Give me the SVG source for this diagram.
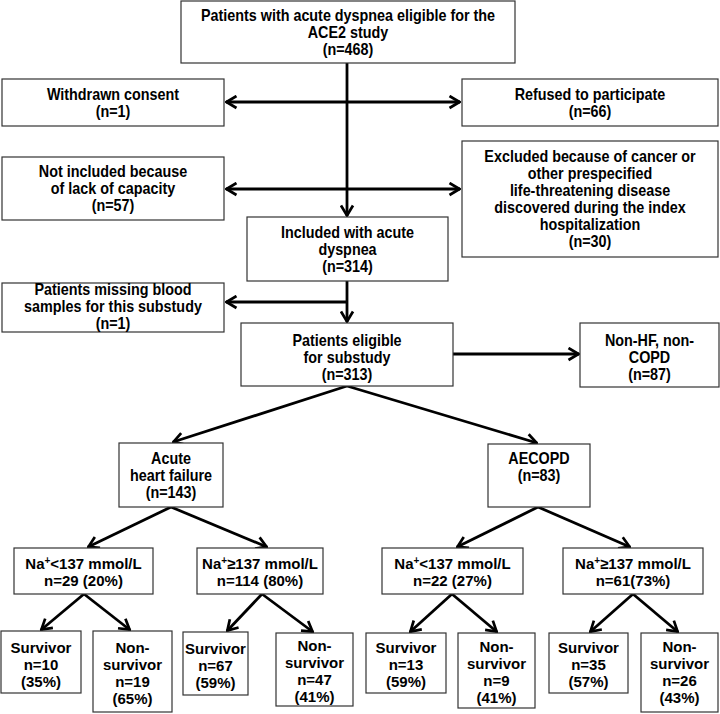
<svg xmlns="http://www.w3.org/2000/svg" width="720" height="714" viewBox="0 0 720 714">
<defs>
<style>
.box{fill:#fff;stroke:#333;stroke-width:1.2}
.tn{font-family:"Liberation Sans",Arial,sans-serif;font-weight:bold;font-size:16.5px;fill:#000;text-anchor:middle}
.tb{font-family:"Liberation Sans",Arial,sans-serif;font-weight:bold;font-size:15px;fill:#000;text-anchor:middle}
.sup{font-size:10px}
.c{stroke:#000;stroke-width:2.8;fill:none;marker-end:url(#ah)}
.d{stroke:#000;stroke-width:2.8;fill:none;marker-end:url(#ah);marker-start:url(#ah)}
</style>
<marker id="ah" viewBox="0 0 13 15" refX="12" refY="7.5" markerWidth="13" markerHeight="15" markerUnits="userSpaceOnUse" orient="auto-start-reverse">
<path d="M1.5,1.5 L11.5,7.5 L1.5,13.5" fill="none" stroke="#000" stroke-width="2.7"/>
</marker>
</defs>
<rect width="720" height="714" fill="#fff"/>

<g id="connectors">
<line class="c" x1="347" y1="63" x2="347" y2="216"/>
<line class="d" x1="226" y1="102" x2="460" y2="102"/>
<line class="d" x1="226" y1="189" x2="460" y2="189"/>
<line class="c" x1="347" y1="281" x2="347" y2="322"/>
<line class="c" x1="347" y1="302" x2="226" y2="302"/>
<line class="c" x1="453" y1="354" x2="579" y2="354"/>
<line class="c" x1="347" y1="386" x2="173" y2="442"/>
<line class="c" x1="347" y1="386" x2="537" y2="443"/>
<line class="c" x1="171" y1="507" x2="88" y2="547"/>
<line class="c" x1="171" y1="507" x2="267" y2="547"/>
<line class="c" x1="538" y1="507" x2="457" y2="547"/>
<line class="c" x1="538" y1="507" x2="630" y2="547"/>
<line class="c" x1="84" y1="594" x2="41" y2="630"/>
<line class="c" x1="84" y1="594" x2="130" y2="630"/>
<line class="c" x1="262" y1="594" x2="227" y2="631"/>
<line class="c" x1="262" y1="594" x2="313" y2="632"/>
<line class="c" x1="452" y1="594" x2="410" y2="632"/>
<line class="c" x1="452" y1="594" x2="497" y2="632"/>
<line class="c" x1="633" y1="594" x2="590" y2="632"/>
<line class="c" x1="633" y1="594" x2="678" y2="632"/>
</g>

<g id="n-top">
<rect class="box" x="181" y="1" width="334" height="62"/>
<text class="tn" transform="translate(348,20.5) scale(0.87,1)">Patients with acute dyspnea eligible for the</text>
<text class="tn" transform="translate(348,37.5) scale(0.87,1)">ACE2 study</text>
<text class="tn" transform="translate(348,54.5) scale(0.87,1)">(n=468)</text>
</g>
<g id="n-withdrawn">
<rect class="box" x="2" y="79" width="222" height="47"/>
<text class="tn" transform="translate(113,99.5) scale(0.87,1)">Withdrawn consent</text>
<text class="tn" transform="translate(113,116.5) scale(0.87,1)">(n=1)</text>
</g>
<g id="n-refused">
<rect class="box" x="462" y="79" width="256" height="47"/>
<text class="tn" transform="translate(590,99.5) scale(0.87,1)">Refused to participate</text>
<text class="tn" transform="translate(590,116.5) scale(0.87,1)">(n=66)</text>
</g>
<g id="n-notincluded">
<rect class="box" x="2" y="157" width="222" height="63"/>
<text class="tn" transform="translate(113,177) scale(0.87,1)">Not included because</text>
<text class="tn" transform="translate(113,194) scale(0.87,1)">of lack of capacity</text>
<text class="tn" transform="translate(113,211) scale(0.87,1)">(n=57)</text>
</g>
<g id="n-excluded">
<rect class="box" x="462" y="141" width="256" height="116"/>
<text class="tn" transform="translate(590,162) scale(0.87,1)">Excluded because of cancer or</text>
<text class="tn" transform="translate(590,179) scale(0.87,1)">other prespecified</text>
<text class="tn" transform="translate(590,196) scale(0.87,1)">life-threatening disease</text>
<text class="tn" transform="translate(590,213) scale(0.87,1)">discovered during the index</text>
<text class="tn" transform="translate(590,230) scale(0.87,1)">hospitalization</text>
<text class="tn" transform="translate(590,247) scale(0.87,1)">(n=30)</text>
</g>
<g id="n-included">
<rect class="box" x="247" y="217" width="201" height="64"/>
<text class="tn" transform="translate(347.5,238) scale(0.87,1)">Included with acute</text>
<text class="tn" transform="translate(347.5,255) scale(0.87,1)">dyspnea</text>
<text class="tn" transform="translate(347.5,272) scale(0.87,1)">(n=314)</text>
</g>
<g id="n-missing">
<rect class="box" x="2" y="283" width="222" height="49"/>
<text class="tn" transform="translate(113,295) scale(0.87,1)">Patients missing blood</text>
<text class="tn" transform="translate(113,312) scale(0.87,1)">samples for this substudy</text>
<text class="tn" transform="translate(113,329) scale(0.87,1)">(n=1)</text>
</g>
<g id="n-eligible">
<rect class="box" x="241" y="323" width="212" height="63"/>
<text class="tn" transform="translate(347,345.5) scale(0.87,1)">Patients eligible</text>
<text class="tn" transform="translate(347,362.5) scale(0.87,1)">for substudy</text>
<text class="tn" transform="translate(347,379.5) scale(0.87,1)">(n=313)</text>
</g>
<g id="n-nonhf">
<rect class="box" x="580" y="323" width="139" height="64"/>
<text class="tn" transform="translate(649.5,345.5) scale(0.87,1)">Non-HF, non-</text>
<text class="tn" transform="translate(649.5,362.5) scale(0.87,1)">COPD</text>
<text class="tn" transform="translate(649.5,379.5) scale(0.87,1)">(n=87)</text>
</g>
<g id="n-ahf">
<rect class="box" x="119" y="443" width="104" height="64"/>
<text class="tn" transform="translate(171,463.5) scale(0.87,1)">Acute</text>
<text class="tn" transform="translate(171,480.5) scale(0.87,1)">heart failure</text>
<text class="tn" transform="translate(171,497.5) scale(0.87,1)">(n=143)</text>
</g>
<g id="n-aecopd">
<rect class="box" x="488" y="444" width="102" height="63"/>
<text class="tn" transform="translate(539,463.5) scale(0.87,1)">AECOPD</text>
<text class="tn" transform="translate(539,480.5) scale(0.87,1)">(n=83)</text>
</g>

<g id="n-ahf-low">
<rect class="box" x="14" y="548" width="139" height="46"/>
<text class="tb" x="83.5" y="569">Na<tspan class="sup" dy="-5">+</tspan><tspan dy="5">&lt;137 mmol/L</tspan></text>
<text class="tb" x="83.5" y="586">n=29 (20%)</text>
</g>
<g id="n-ahf-high">
<rect class="box" x="197" y="548" width="126" height="46"/>
<text class="tb" x="260" y="569">Na<tspan class="sup" dy="-5">+</tspan><tspan dy="5">≥137 mmol/L</tspan></text>
<text class="tb" x="260" y="586">n=114 (80%)</text>
</g>
<g id="n-copd-low">
<rect class="box" x="382" y="548" width="141" height="46"/>
<text class="tb" x="452.5" y="569">Na<tspan class="sup" dy="-5">+</tspan><tspan dy="5">&lt;137 mmol/L</tspan></text>
<text class="tb" x="452.5" y="586">n=22 (27%)</text>
</g>
<g id="n-copd-high">
<rect class="box" x="563" y="548" width="140" height="46"/>
<text class="tb" x="633" y="569">Na<tspan class="sup" dy="-5">+</tspan><tspan dy="5">≥137 mmol/L</tspan></text>
<text class="tb" x="633" y="586">n=61(73%)</text>
</g>

<g id="n-s1">
<rect class="box" x="1" y="631" width="80" height="62"/>
<text class="tb" x="41" y="652.5">Survivor</text>
<text class="tb" x="41" y="669.5">n=10</text>
<text class="tb" x="41" y="686.5">(35%)</text>
</g>
<g id="n-ns1">
<rect class="box" x="93" y="631" width="79" height="81"/>
<text class="tb" x="132.5" y="653">Non-</text>
<text class="tb" x="132.5" y="670">survivor</text>
<text class="tb" x="132.5" y="687">n=19</text>
<text class="tb" x="132.5" y="704">(65%)</text>
</g>
<g id="n-s2">
<rect class="box" x="183" y="632" width="65" height="63"/>
<text class="tb" x="215.5" y="654">Survivor</text>
<text class="tb" x="215.5" y="671">n=67</text>
<text class="tb" x="215.5" y="688">(59%)</text>
</g>
<g id="n-ns2">
<rect class="box" x="276" y="633" width="77" height="73"/>
<text class="tb" x="314.5" y="651">Non-</text>
<text class="tb" x="314.5" y="668">survivor</text>
<text class="tb" x="314.5" y="685">n=47</text>
<text class="tb" x="314.5" y="702">(41%)</text>
</g>
<g id="n-s3">
<rect class="box" x="366" y="633" width="80" height="60"/>
<text class="tb" x="406" y="653">Survivor</text>
<text class="tb" x="406" y="670">n=13</text>
<text class="tb" x="406" y="687">(59%)</text>
</g>
<g id="n-ns3">
<rect class="box" x="458" y="633" width="77" height="75"/>
<text class="tb" x="496.5" y="652">Non-</text>
<text class="tb" x="496.5" y="669">survivor</text>
<text class="tb" x="496.5" y="686">n=9</text>
<text class="tb" x="496.5" y="703">(41%)</text>
</g>
<g id="n-s4">
<rect class="box" x="549" y="633" width="79" height="60"/>
<text class="tb" x="588.5" y="653">Survivor</text>
<text class="tb" x="588.5" y="670">n=35</text>
<text class="tb" x="588.5" y="687">(57%)</text>
</g>
<g id="n-ns4">
<rect class="box" x="641" y="633" width="77" height="79"/>
<text class="tb" x="679.5" y="652">Non-</text>
<text class="tb" x="679.5" y="669">survivor</text>
<text class="tb" x="679.5" y="686">n=26</text>
<text class="tb" x="679.5" y="703">(43%)</text>
</g>
</svg>
